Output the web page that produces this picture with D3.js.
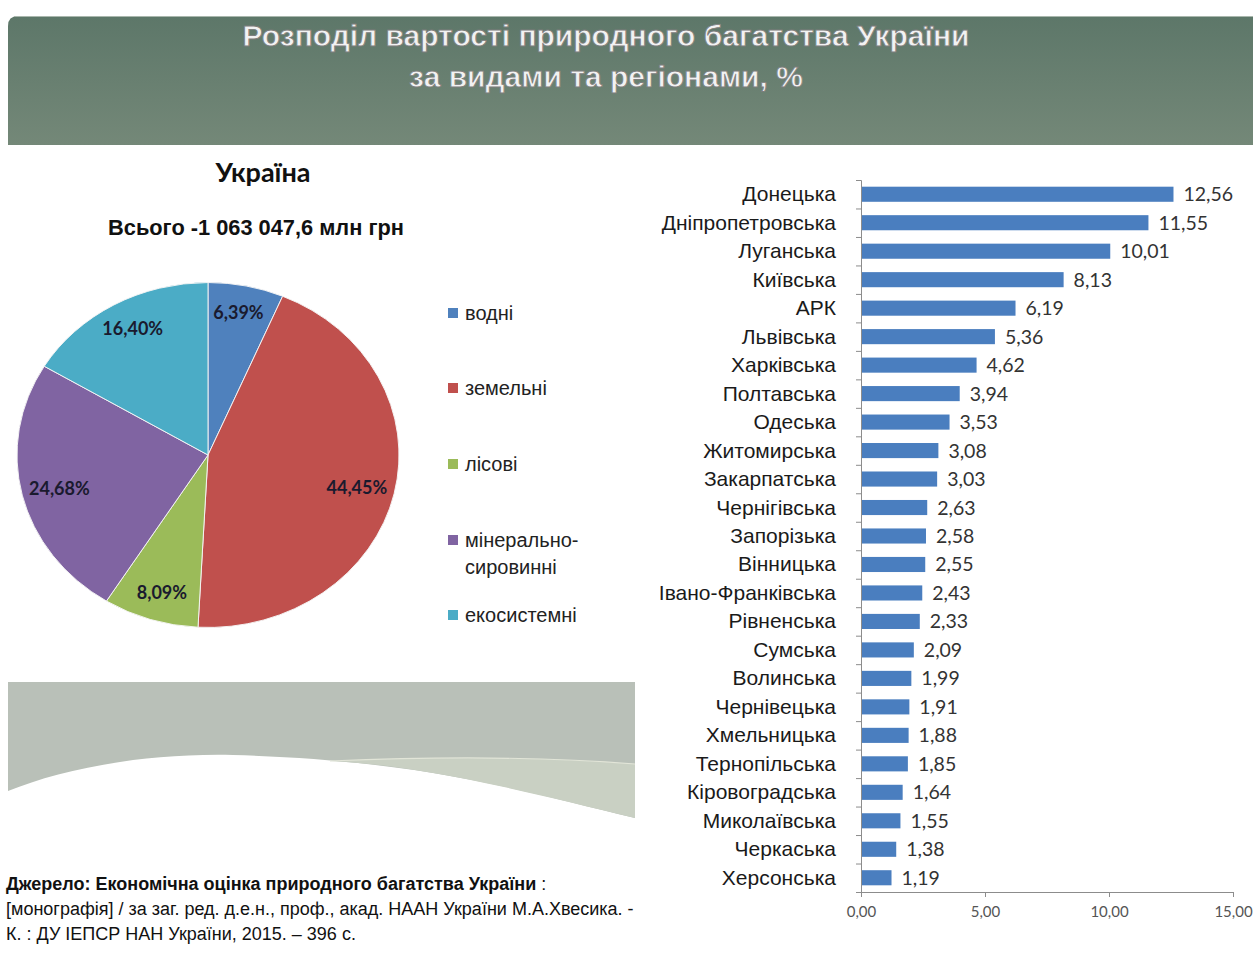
<!DOCTYPE html>
<html>
<head>
<meta charset="utf-8">
<script src="https://cdn.jsdelivr.net/npm/d3@7/dist/d3.min.js"></script>
<style>
  body { margin: 0; background: #fff; }
  svg { display: block; }
</style>
</head>
<body>
<script>
// pie: natural wealth by type
var types = ["водні", "земельні", "лісові", "мінерально-сировинні", "екосистемні"];
var typeShares = [6.39, 44.45, 8.09, 24.68, 16.40];
var typeColors = ["#4f81bd", "#c0504d", "#9bbb59", "#8064a2", "#4bacc6"];

// bars: by region
var regions = ["Донецька", "Дніпропетровська", "Луганська", "Київська", "АРК", "Львівська",
  "Харківська", "Полтавська", "Одеська", "Житомирська", "Закарпатська", "Чернігівська",
  "Запорізька", "Вінницька", "Івано-Франківська", "Рівненська", "Сумська", "Волинська",
  "Чернівецька", "Хмельницька", "Тернопільська", "Кіровоградська", "Миколаївська",
  "Черкаська", "Херсонська"];
var regionShares = [12.56, 11.55, 10.01, 8.13, 6.19, 5.36, 4.62, 3.94, 3.53, 3.08, 3.03, 2.63,
  2.58, 2.55, 2.43, 2.33, 2.09, 1.99, 1.91, 1.88, 1.85, 1.64, 1.55, 1.38, 1.19];
var xTicks = [0, 5, 10, 15];

var W = 1257, H = 959;
var narrow = "'Liberation Sans Narrow', 'Arial Narrow', 'Liberation Sans', sans-serif";
var calibri = "Lato, 'Open Sans', sans-serif";
var fmt = function(v, d) { return v.toFixed(d).replace(".", ","); };

var svg = d3.select("body").append("svg").attr("width", W).attr("height", H);
var defs = svg.append("defs");

// title banner
var grad = defs.append("linearGradient").attr("id", "ban").attr("x1", 0).attr("y1", 0).attr("x2", 0).attr("y2", 1);
grad.append("stop").attr("offset", "0%").attr("stop-color", "#5d7769");
grad.append("stop").attr("offset", "100%").attr("stop-color", "#748878");
svg.append("path")
  .attr("d", "M8,145 L8,26 Q8,16 18,16 L1253,16 L1253,145 Z")
  .attr("fill", "url(#ban)");
svg.append("line").attr("x1", 14).attr("x2", 1253).attr("y1", 16.5).attr("y2", 16.5)
  .attr("stroke", "#a9b7ad").attr("stroke-width", 1);

var titleLines = ["Розподіл вартості природного багатства України", "за видами та регіонами, %"];
svg.selectAll("text.title").data(titleLines).enter().append("text")
  .attr("class", "title")
  .attr("x", 606).attr("y", function(d, i) { return 46 + i * 41; })
  .attr("text-anchor", "middle")
  .attr("font-family", "'Liberation Sans', Arial, sans-serif")
  .attr("font-weight", "bold").attr("font-size", 30)
  .attr("fill", "#f2f2f2").attr("stroke", "#7d7d7d").attr("stroke-width", 0.8)
  .text(function(d) { return d; });

// pie titles
svg.append("text").attr("x", 263).attr("y", 182).attr("text-anchor", "middle")
  .attr("font-family", calibri).attr("font-weight", "bold").attr("font-size", 27)
  .attr("fill", "#111").text("Україна");
svg.append("text").attr("x", 256).attr("y", 235).attr("text-anchor", "middle")
  .attr("font-family", narrow).attr("font-weight", "bold").attr("font-size", 21.8)
  .attr("fill", "#111").text("Всього -1 063 047,6 млн грн");

// pie
var cx = 208, cy = 455, r = 191, sy = 0.903;
var pie = d3.pie().sort(null).value(function(d) { return d; });
var arcs = pie(typeShares);
var arc = d3.arc().innerRadius(0).outerRadius(r);
var pg = svg.append("g").attr("transform", "translate(" + cx + "," + cy + ") scale(1," + sy + ")");
pg.selectAll("path").data(arcs).enter().append("path")
  .attr("d", arc)
  .attr("fill", function(d, i) { return typeColors[i]; })
  .attr("stroke", "#f4f4f4").attr("stroke-width", 1);

svg.selectAll("text.plab").data(arcs).enter().append("text")
  .attr("class", "plab")
  .attr("x", function(d) { var a = (d.startAngle + d.endAngle) / 2; return cx + 0.8 * r * Math.sin(a); })
  .attr("y", function(d) { var a = (d.startAngle + d.endAngle) / 2; return cy - 0.84 * r * sy * Math.cos(a) + 6; })
  .attr("text-anchor", "middle")
  .attr("font-family", calibri).attr("font-weight", "bold").attr("font-size", 18)
  .attr("fill", "#1a1a2e")
  .text(function(d) { return fmt(d.data, 2) + "%"; });

// legend
var legY = [313, 388, 464, 540, 615];
var lg = svg.selectAll("g.leg").data(types).enter().append("g").attr("class", "leg")
  .attr("transform", function(d, i) { return "translate(448," + legY[i] + ")"; });
lg.append("rect").attr("x", 0).attr("y", -5).attr("width", 10).attr("height", 10)
  .attr("fill", function(d, i) { return typeColors[i]; });
lg.append("text").attr("x", 17).attr("y", 7)
  .attr("font-family", narrow).attr("font-size", 20).attr("fill", "#222")
  .each(function(d) {
    var parts = d === "мінерально-сировинні" ? ["мінерально-", "сировинні"] : [d];
    var t = d3.select(this);
    parts.forEach(function(p, j) {
      t.append("tspan").attr("x", 17).attr("dy", j ? 27 : 0).text(p);
    });
  });

// decorative wave
var waveTop = 682, waveL = 8, waveR = 635;
svg.append("path")
  .attr("d", "M" + waveL + "," + waveTop + " L" + waveR + "," + waveTop + " L" + waveR + ",818 " +
    "C520,790 420,760 233,755 C140,753 60,770 " + waveL + ",791 Z")
  .attr("fill", "#b9c0b8");
svg.append("path")
  .attr("d", "M330,761 C450,756 560,758 " + waveR + ",764 L" + waveR + ",818 C520,790 420,765 330,761 Z")
  .attr("fill", "#c9d0c3");
svg.append("path")
  .attr("d", "M330,761 C450,756 560,758 " + waveR + ",764")
  .attr("fill", "none").attr("stroke", "#e2e5d8").attr("stroke-width", 1.2);

// source
var src = svg.append("g").attr("font-family", narrow).attr("font-size", 18).attr("fill", "#111");
var s1 = src.append("text").attr("x", 6).attr("y", 890);
s1.append("tspan").attr("font-weight", "bold").text("Джерело: Економічна оцінка природного багатства України");
s1.append("tspan").text(" :");
src.append("text").attr("x", 6).attr("y", 915)
  .text("[монографія] / за заг. ред. д.е.н., проф., акад. НААН України М.А.Хвесика. -");
src.append("text").attr("x", 6).attr("y", 940)
  .text("К. : ДУ ІЕПСР НАН України, 2015. – 396 с.");

// bar chart
var x = d3.scaleLinear().domain([0, 15]).range([861, 1233]);
var y = d3.scaleBand().domain(regions).range([180, 892]).paddingInner(0.47).paddingOuter(0.235);

var idx = d3.scaleLinear().domain([0, regions.length]).range([180, 892]);
svg.append("g").attr("transform", "translate(861,0)")
  .call(d3.axisLeft(idx).tickValues(d3.range(regions.length + 1)).tickSize(5).tickFormat(""))
  .call(function(g) {
    g.select(".domain").attr("stroke", "#8c8c8c");
    g.selectAll(".tick line").attr("stroke", "#8c8c8c");
  });

svg.append("g").attr("transform", "translate(0,892)")
  .call(d3.axisBottom(x).tickValues(xTicks).tickSize(5).tickSizeOuter(0)
    .tickFormat(function(d) { return fmt(d, 2); }))
  .call(function(g) {
    g.select(".domain").attr("stroke", "#8c8c8c");
    g.selectAll(".tick line").attr("stroke", "#8c8c8c");
    g.selectAll(".tick text").attr("font-family", calibri).attr("font-size", 15)
      .attr("fill", "#555").attr("dy", "1.1em");
  });

svg.selectAll("rect.bar").data(regionShares).enter().append("rect")
  .attr("class", "bar")
  .attr("x", x(0) + 1)
  .attr("y", function(d, i) { return y(regions[i]); })
  .attr("width", function(d) { return x(d) - x(0); })
  .attr("height", y.bandwidth())
  .attr("fill", "#4a7ebf");

svg.selectAll("text.val").data(regionShares).enter().append("text")
  .attr("class", "val")
  .attr("x", function(d) { return x(d) + 11; })
  .attr("y", function(d, i) { return y(regions[i]) + y.bandwidth() / 2 + 7; })
  .attr("font-family", calibri).attr("font-size", 19.5).attr("fill", "#333")
  .text(function(d) { return fmt(d, 2); });

svg.selectAll("text.cat").data(regions).enter().append("text")
  .attr("class", "cat")
  .attr("x", 836)
  .attr("y", function(d) { return y(d) + y.bandwidth() / 2 + 7; })
  .attr("text-anchor", "end")
  .attr("font-family", narrow).attr("font-size", 21).attr("fill", "#1a1a1a")
  .text(function(d) { return d; });
</script>
</body>
</html>
